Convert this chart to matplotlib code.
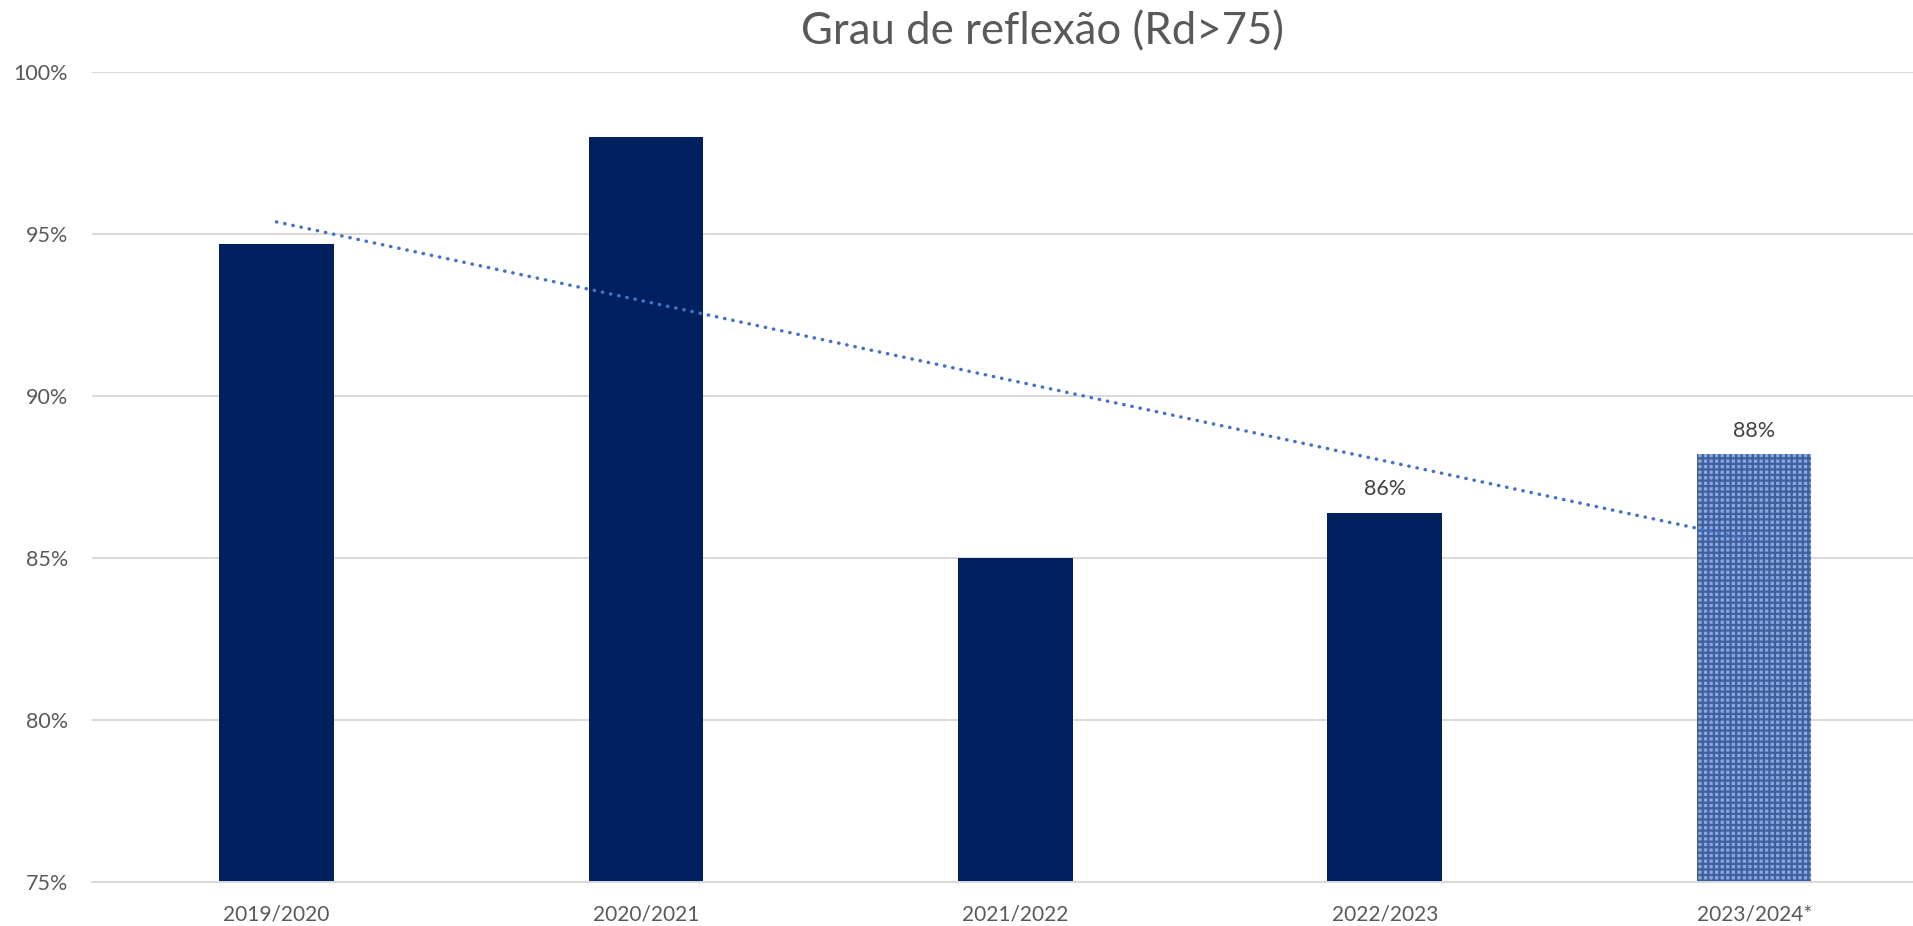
import matplotlib
matplotlib.use("Agg")
import matplotlib.pyplot as plt
import numpy as np

# Data
seasons = ["2019/2020", "2020/2021", "2021/2022", "2022/2023", "2023/2024*"]
values = [94.7, 98.0, 85.0, 86.4, 88.2]
labelled = {"2022/2023": "86%", "2023/2024*": "88%"}
yticks = [75, 80, 85, 90, 95, 100]

NAVY = "#002060"
TEXT = "#595959"
GRID = "#D9D9D9"
TREND = "#4472C4"

plt.rcParams["font.family"] = ["Lato", "DejaVu Sans"]
plt.rcParams["hatch.linewidth"] = 1.6

fig = plt.figure(figsize=(19.13, 9.26), dpi=100)
# plot area runs a bit past the right edge (cropped like the original)
ax = fig.add_axes([0.048, 0.0475, 0.9655, 0.8745])

x = np.arange(len(seasons))
bars = ax.bar(x, values, width=0.31, color=NAVY, zorder=2)

# last season is provisional -> textured fill
last = bars[-1]
last.set_facecolor("#8aa7dc")
last.set_edgecolor("#3f5f9f")
last.set_hatch("+++")
last.set_linewidth(0)

# linear trendline like Excel
coef = np.polyfit(x, values, 1)
ax.plot(x, np.polyval(coef, x), color=TREND, lw=2.5,
        linestyle=(0, (0.1, 2.3)), dash_capstyle="round", zorder=3)

for xi, s, v in zip(x, seasons, values):
    if s in labelled:
        ax.annotate(labelled[s], (xi, v), xytext=(0, 17), textcoords="offset points",
                    ha="center", va="center", fontsize=15.5, color="#404040")

ax.set_xlim(-0.5, len(seasons) - 0.5)
ax.set_ylim(75, 100)
ax.set_yticks(yticks)
ax.set_yticklabels([f"{t}%" for t in yticks])
ax.set_xticks(x)
ax.set_xticklabels(seasons)
ax.tick_params(axis="both", length=0, labelcolor=TEXT)
ax.tick_params(axis="y", pad=17, labelsize=15.5)
ax.tick_params(axis="x", pad=16, labelsize=15)

ax.grid(axis="y", color=GRID, lw=1.4, zorder=0)
ax.set_axisbelow(True)
for sp in ["top", "right", "left"]:
    ax.spines[sp].set_visible(False)
ax.spines["bottom"].set_color(GRID)
ax.spines["bottom"].set_linewidth(1.4)

fig.suptitle("Grau de reflexão (Rd>75)", x=0.545, y=0.988, va="top",
             fontsize=31.5, color=TEXT)

fig.savefig("out.png", dpi=100)
